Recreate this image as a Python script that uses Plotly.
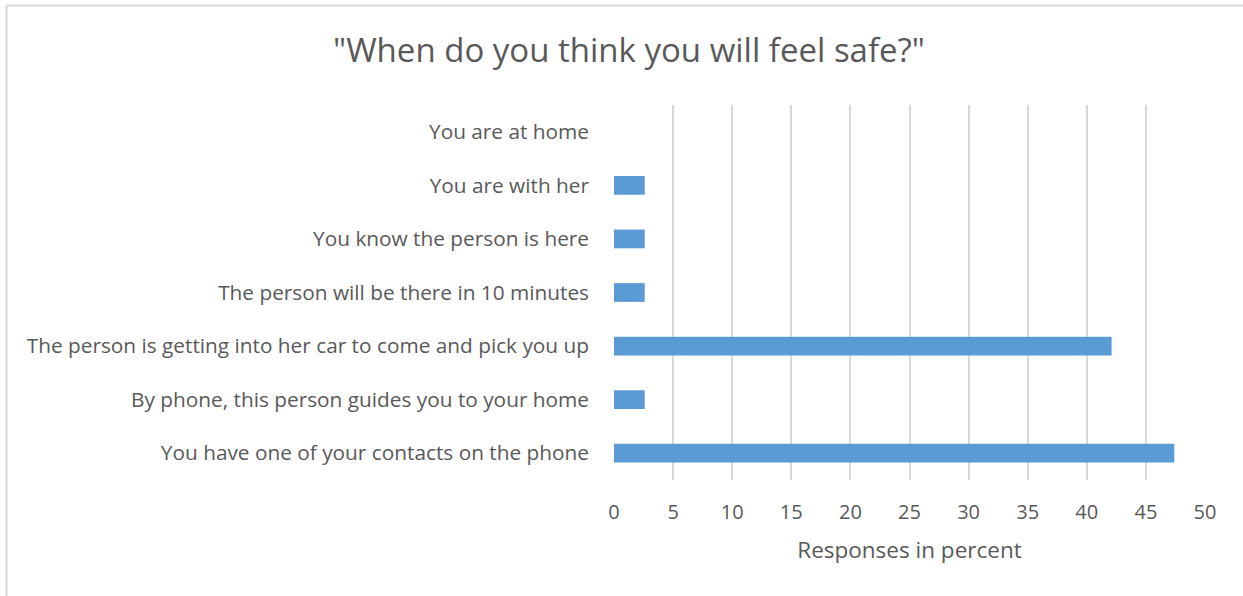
import plotly.graph_objects as go

categories = [
    "You have one of your contacts on the phone",
    "By phone, this person guides you to your home",
    "The person is getting into her car to come and pick you up",
    "The person will be there in 10 minutes",
    "You know the person is here",
    "You are with her",
    "You are at home",
]
percent = [47.4, 2.6, 42.1, 2.6, 2.6, 2.6, 0.0]
x_ticks = [0, 5, 10, 15, 20, 25, 30, 35, 40, 45, 50]

W, H = 1243, 596
L, R, T, B = 614, 38, 105, 116
pw, ph = W - L - R, H - T - B

def px_x(v):
    return (v - L) / pw

def px_y(v):
    return (H - B - v) / ph

text_col = "#595959"
font_fam = "Open Sans, Noto Sans, sans-serif"

fig = go.Figure(go.Bar(
    y=categories, x=percent, orientation="h",
    marker=dict(color="#5B9BD5", line=dict(width=0)),
))

fig.update_layout(
    width=W, height=H,
    margin=dict(l=L, r=R, t=T, b=B),
    paper_bgcolor="white", plot_bgcolor="white",
    bargap=0.65,
    showlegend=False,
    font=dict(family=font_fam, color=text_col, size=20),
    title=dict(text='"When do you think you will feel safe?"',
               x=629 / W, xref="container", xanchor="center",
               y=1 - 50 / H, yref="container", yanchor="middle",
               font=dict(size=33, color=text_col, family=font_fam)),
    xaxis=dict(range=[0, 50], tickvals=x_ticks, showgrid=True,
               gridcolor="#D9D9D9", gridwidth=2, zeroline=False,
               showline=False, ticks="", tickfont=dict(size=20),
               ticklabelstandoff=18,
               title=dict(text="Responses in percent", standoff=18,
                          font=dict(size=22.5))),
    yaxis=dict(categoryorder="array", categoryarray=categories,
               showgrid=False, zeroline=False, showline=False, ticks="",
               ticklabelstandoff=24, tickfont=dict(size=20.8)),
    shapes=[
        dict(type="line", xref="paper", yref="paper",
             x0=px_x(6.5), x1=px_x(6.5), y0=px_y(5.5), y1=px_y(H + 2),
             line=dict(color="#D9D9D9", width=2)),
        dict(type="line", xref="paper", yref="paper",
             x0=px_x(6.5), x1=px_x(W + 2), y0=px_y(5.5), y1=px_y(5.5),
             line=dict(color="#D9D9D9", width=2)),
    ],
)

fig.write_html("out.html")
